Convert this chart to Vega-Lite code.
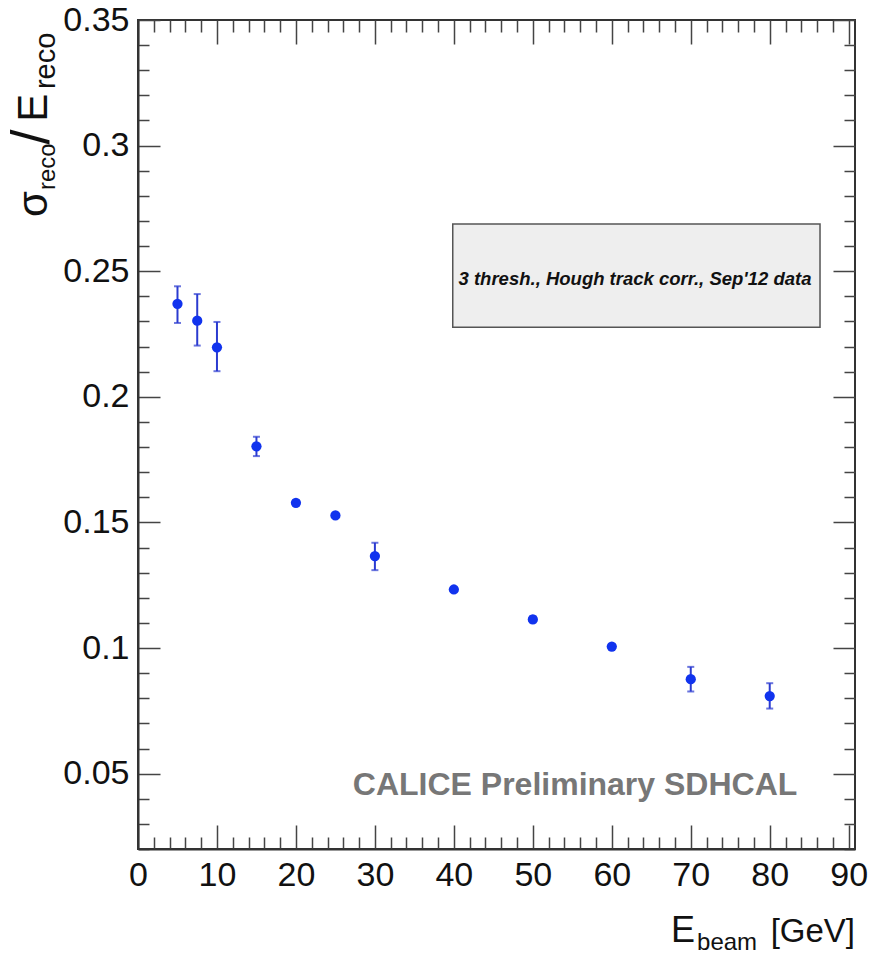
{
  "$schema": "https://vega.github.io/schema/vega-lite/v6.json",
  "width": 717,
  "height": 829,
  "autosize": {"type": "none"},
  "padding": {"left": 138, "top": 20, "right": 18, "bottom": 114},
  "background": "white",
  "config": {
    "view": {"stroke": "#333333", "strokeWidth": 2},
    "font": "Liberation Sans",
    "axis": {
      "title": null,
      "ticks": false,
      "domain": true,
      "domainColor": "#333333",
      "domainWidth": 2,
      "grid": true,
      "gridColor": "#444444",
      "gridWidth": 1.5,
      "gridOpacity": 1,
      "labelFont": "Liberation Sans",
      "labelFontSize": 34,
      "labelColor": "#111111",
      "labelPadding": 9,
      "labelOverlap": false,
      "labelFlush": false,
      "labelBound": false
    }
  },
  "data": {
    "values": [
      {"E": 5, "r": 0.2370, "lo": 0.2294, "hi": 0.2440},
      {"E": 7.5, "r": 0.2303, "lo": 0.2204, "hi": 0.2409},
      {"E": 10, "r": 0.2197, "lo": 0.2102, "hi": 0.2298},
      {"E": 15, "r": 0.1803, "lo": 0.1764, "hi": 0.1841},
      {"E": 20, "r": 0.1578, "lo": 0.1568, "hi": 0.1588},
      {"E": 25, "r": 0.1528, "lo": 0.1519, "hi": 0.1537},
      {"E": 30, "r": 0.1366, "lo": 0.1310, "hi": 0.1419},
      {"E": 40, "r": 0.1233, "lo": 0.1224, "hi": 0.1242},
      {"E": 50, "r": 0.1114, "lo": 0.1102, "hi": 0.1126},
      {"E": 60, "r": 0.1006, "lo": 0.0998, "hi": 0.1014},
      {"E": 70, "r": 0.0876, "lo": 0.0827, "hi": 0.0925},
      {"E": 80, "r": 0.0809, "lo": 0.0759, "hi": 0.0860}
    ]
  },
  "layer": [
    {
      "mark": {"type": "rule", "color": "#2b3bd0", "strokeWidth": 2},
      "encoding": {
        "x": {
          "field": "E", "type": "quantitative",
          "scale": {"domain": [0, 90.8], "nice": false, "zero": false},
          "axis": {
            "title": null,
            "tickCount": 46,
            "labelOverlap": false,
            "labelExpr": "abs(datum.value % 10) < 0.001 ? format(datum.value, 'd') : ''",
            "gridDash": {"condition": {"test": "abs(datum.value % 10) < 0.001", "value": [24, 781, 24, 4000]}, "value": [12, 805, 12, 4000]}
          }
        },
        "y": {
          "field": "lo", "type": "quantitative",
          "scale": {"domain": [0.02, 0.35], "nice": false, "zero": false},
          "axis": {
            "title": null,
            "tickCount": 33,
            "labelOverlap": false,
            "labelExpr": "round(datum.value * 100) % 5 === 0 ? format(datum.value, '~g') : ''",
            "gridDash": {"condition": {"test": "round(datum.value * 100) % 5 === 0", "value": [22, 673, 22, 4000]}, "value": [11, 695, 11, 4000]}
          }
        },
        "y2": {"field": "hi"}
      }
    },
    {
      "mark": {"type": "tick", "orient": "horizontal", "color": "#2b3bd0", "size": 7, "thickness": 2},
      "encoding": {
        "x": {"field": "E", "type": "quantitative"},
        "y": {"field": "lo", "type": "quantitative"}
      }
    },
    {
      "mark": {"type": "tick", "orient": "horizontal", "color": "#2b3bd0", "size": 7, "thickness": 2},
      "encoding": {
        "x": {"field": "E", "type": "quantitative"},
        "y": {"field": "hi", "type": "quantitative"}
      }
    },
    {
      "mark": {"type": "point", "filled": true, "shape": "circle", "size": 105, "color": "#1133ee", "opacity": 1},
      "encoding": {
        "x": {"field": "E", "type": "quantitative"},
        "y": {"field": "r", "type": "quantitative"}
      }
    },
    {
      "data": {"values": [{}]},
      "mark": {"type": "rect", "fill": "#eeeeee", "stroke": "#555555", "strokeWidth": 1.5},
      "encoding": {
        "x": {"datum": 39.86, "type": "quantitative"},
        "x2": {"datum": 86.37},
        "y": {"datum": 0.2688, "type": "quantitative"},
        "y2": {"datum": 0.2277}
      }
    },
    {
      "data": {"values": [{}]},
      "mark": {"type": "text", "text": "3 thresh., Hough track corr., Sep'12 data", "font": "Liberation Sans", "fontSize": 18.5, "fontWeight": "bold", "fontStyle": "italic", "color": "#111111", "align": "center", "baseline": "alphabetic"},
      "encoding": {
        "x": {"datum": 62.94, "type": "quantitative"},
        "y": {"datum": 0.2445, "type": "quantitative"}
      }
    },
    {
      "data": {"values": [{}]},
      "mark": {"type": "text", "text": "CALICE Preliminary SDHCAL", "font": "Liberation Sans", "fontSize": 32, "fontWeight": "bold", "color": "#777777", "align": "center", "baseline": "alphabetic"},
      "encoding": {
        "x": {"datum": 55.35, "type": "quantitative"},
        "y": {"datum": 0.0415, "type": "quantitative"}
      }
    },
    {
      "data": {"values": [{}]},
      "mark": {"type": "text", "text": "[GeV]", "font": "Liberation Sans", "fontSize": 33, "color": "#111111", "align": "right", "baseline": "alphabetic"},
      "encoding": {
        "x": {"datum": 90.8, "type": "quantitative"},
        "y": {"datum": -0.017, "type": "quantitative"}
      }
    },
    {
      "data": {"values": [{}]},
      "mark": {"type": "text", "text": "E", "font": "Liberation Sans", "fontSize": 36, "color": "#111111", "align": "right", "baseline": "alphabetic"},
      "encoding": {
        "x": {"datum": 70.54, "type": "quantitative"},
        "y": {"datum": -0.017, "type": "quantitative"}
      }
    },
    {
      "data": {"values": [{}]},
      "mark": {"type": "text", "text": "beam", "font": "Liberation Sans", "fontSize": 24, "color": "#111111", "align": "left", "baseline": "alphabetic"},
      "encoding": {
        "x": {"datum": 70.8, "type": "quantitative"},
        "y": {"datum": -0.0202, "type": "quantitative"}
      }
    },
    {
      "data": {"values": [{}]},
      "mark": {"type": "text", "text": "σ", "font": "Liberation Sans", "fontSize": 42, "color": "#111111", "align": "left", "baseline": "alphabetic", "angle": 270},
      "encoding": {
        "x": {"datum": -11.52, "type": "quantitative"},
        "y": {"datum": 0.2716, "type": "quantitative"}
      }
    },
    {
      "data": {"values": [{}]},
      "mark": {"type": "text", "text": "reco", "font": "Liberation Sans", "fontSize": 24, "color": "#111111", "align": "left", "baseline": "alphabetic", "angle": 270},
      "encoding": {
        "x": {"datum": -10.51, "type": "quantitative"},
        "y": {"datum": 0.2823, "type": "quantitative"}
      }
    },
    {
      "data": {"values": [{}]},
      "mark": {"type": "text", "text": "/", "font": "Liberation Sans", "fontSize": 54, "color": "#111111", "align": "left", "baseline": "alphabetic", "angle": 270},
      "encoding": {
        "x": {"datum": -11.3, "type": "quantitative"},
        "y": {"datum": 0.3004, "type": "quantitative"}
      }
    },
    {
      "data": {"values": [{}]},
      "mark": {"type": "text", "text": "E", "font": "Liberation Sans", "fontSize": 42, "color": "#111111", "align": "left", "baseline": "alphabetic", "angle": 270},
      "encoding": {
        "x": {"datum": -11.52, "type": "quantitative"},
        "y": {"datum": 0.3095, "type": "quantitative"}
      }
    },
    {
      "data": {"values": [{}]},
      "mark": {"type": "text", "text": "reco", "font": "Liberation Sans", "fontSize": 29, "color": "#111111", "align": "left", "baseline": "alphabetic", "angle": 270},
      "encoding": {
        "x": {"datum": -10.51, "type": "quantitative"},
        "y": {"datum": 0.3225, "type": "quantitative"}
      }
    }
  ]
}
